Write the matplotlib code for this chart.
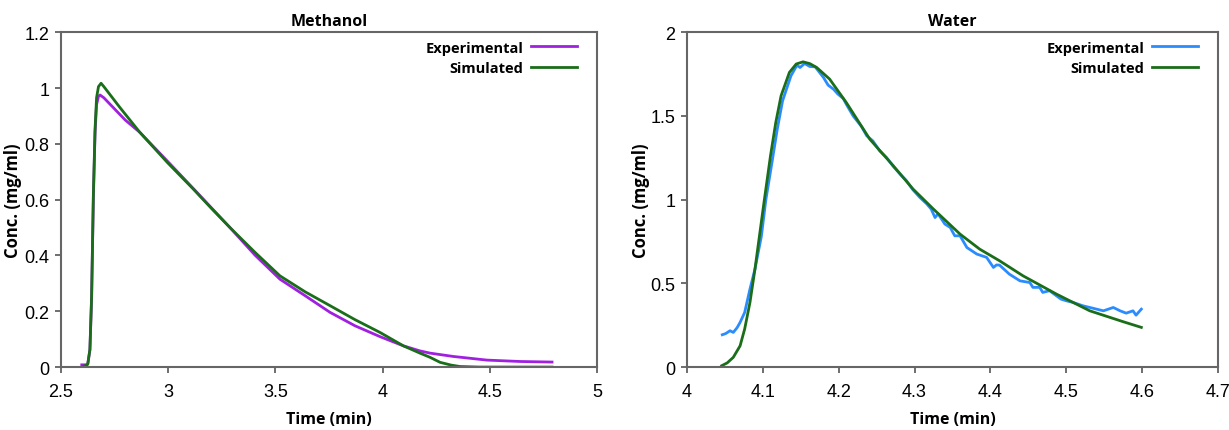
import matplotlib
import matplotlib.pyplot as plt

matplotlib.use('Agg')

# Methanol
meoh_exp_t = [2.597, 2.62, 2.625, 2.635, 2.643, 2.651, 2.659, 2.666, 2.675, 2.682, 2.70,
              2.75, 2.80, 2.868, 3.0, 3.117, 3.2, 3.288, 3.405, 3.521, 3.638, 3.755,
              3.871, 3.988, 4.097, 4.174, 4.221, 4.33, 4.486, 4.641, 4.79]
meoh_exp_c = [0.008, 0.008, 0.012, 0.06, 0.25, 0.6, 0.84, 0.94, 0.97, 0.975, 0.965,
              0.925, 0.885, 0.841, 0.735, 0.64, 0.572, 0.50, 0.401, 0.315, 0.256, 0.196,
              0.148, 0.109, 0.076, 0.058, 0.050, 0.038, 0.025, 0.020, 0.018]
meoh_sim_t = [2.60, 2.625, 2.635, 2.643, 2.651, 2.659, 2.666, 2.675, 2.687, 2.70, 2.775,
              2.868, 3.0, 3.117, 3.2, 3.288, 3.405, 3.521, 3.638, 3.755, 3.871, 3.988,
              4.097, 4.174, 4.221, 4.268, 4.32, 4.361, 4.45, 4.79]
meoh_sim_c = [0.0, 0.01, 0.064, 0.255, 0.614, 0.853, 0.965, 1.005, 1.017, 1.005, 0.93,
              0.841, 0.73, 0.638, 0.57, 0.50, 0.411, 0.327, 0.270, 0.220, 0.170, 0.124,
              0.076, 0.050, 0.035, 0.017, 0.007, 0.002, 0.0, 0.0]

# Water
water_exp_t = [4.0465, 4.051, 4.0567, 4.061, 4.066, 4.070, 4.076, 4.083, 4.0896, 4.098,
               4.104, 4.112, 4.119, 4.126, 4.137, 4.145, 4.149, 4.155, 4.162, 4.169,
               4.180, 4.186, 4.193, 4.199, 4.206, 4.210, 4.219, 4.230, 4.237, 4.245,
               4.254, 4.263, 4.272, 4.281, 4.289, 4.298, 4.307, 4.316, 4.322, 4.327,
               4.331, 4.340, 4.347, 4.353, 4.360, 4.369, 4.382, 4.395, 4.404, 4.408,
               4.412, 4.425, 4.439, 4.452, 4.456, 4.465, 4.469, 4.478, 4.487, 4.493,
               4.50, 4.509, 4.522, 4.531, 4.54, 4.549, 4.562, 4.571, 4.579, 4.588,
               4.592, 4.599]
water_exp_c = [0.193, 0.200, 0.217, 0.207, 0.235, 0.267, 0.326, 0.466, 0.585, 0.78,
               1.0, 1.222, 1.421, 1.59, 1.739, 1.803, 1.789, 1.813, 1.795, 1.793,
               1.729, 1.684, 1.660, 1.630, 1.604, 1.570, 1.50, 1.437, 1.381, 1.351,
               1.291, 1.252, 1.198, 1.152, 1.115, 1.058, 1.013, 0.975, 0.943, 0.893,
               0.915, 0.854, 0.834, 0.784, 0.784, 0.714, 0.675, 0.655, 0.595, 0.61,
               0.609, 0.555, 0.515, 0.505, 0.476, 0.476, 0.446, 0.456, 0.426, 0.406,
               0.396, 0.386, 0.366, 0.356, 0.346, 0.336, 0.356, 0.336, 0.322, 0.336,
               0.31, 0.346]
water_sim_t = [4.0457, 4.053, 4.061, 4.070, 4.076, 4.083, 4.0896, 4.096, 4.102, 4.110,
               4.117, 4.124, 4.135, 4.144, 4.153, 4.162, 4.171, 4.188, 4.21, 4.241,
               4.272, 4.298, 4.325, 4.360, 4.386, 4.412, 4.443, 4.487, 4.531, 4.575,
               4.599]
water_sim_c = [0.008, 0.025, 0.058, 0.127, 0.227, 0.386, 0.585, 0.80, 1.0, 1.26,
               1.46, 1.62, 1.76, 1.81, 1.823, 1.812, 1.789, 1.72, 1.58, 1.361,
               1.202, 1.063, 0.943, 0.794, 0.704, 0.635, 0.545, 0.436, 0.336, 0.271,
               0.237]

tick_font = ['Liberation Sans', 'DejaVu Sans']
label_font = ['Open Sans', 'DejaVu Sans']

fig = plt.figure(figsize=(12.29, 4.31), dpi=100)
ax1 = fig.add_axes([0.0496, 0.146, 0.4362, 0.777])
ax2 = fig.add_axes([0.559, 0.146, 0.432, 0.777])

panels = [
    (ax1, 'Methanol', meoh_exp_t, meoh_exp_c, '#a020e0', meoh_sim_t, meoh_sim_c,
     (2.5, 5), [2.5, 3, 3.5, 4, 4.5, 5], ['2.5', '3', '3.5', '4', '4.5', '5'],
     (0, 1.2), [0, 0.2, 0.4, 0.6, 0.8, 1, 1.2], ['0', '0.2', '0.4', '0.6', '0.8', '1', '1.2'],
     -0.072),
    (ax2, 'Water', water_exp_t, water_exp_c, '#2a8cff', water_sim_t, water_sim_c,
     (4, 4.7), [4, 4.1, 4.2, 4.3, 4.4, 4.5, 4.6, 4.7],
     ['4', '4.1', '4.2', '4.3', '4.4', '4.5', '4.6', '4.7'],
     (0, 2), [0, 0.5, 1, 1.5, 2], ['0', '0.5', '1', '1.5', '2'],
     -0.07),
]

for ax, title, et, ec, ecol, st, sc, xlim, xt, xtl, ylim, yt, ytl, ylab_x in panels:
    ax.plot(et, ec, color=ecol, lw=2.0, label='Experimental')
    ax.plot(st, sc, color='#1a6e1a', lw=2.0, label='Simulated')
    ax.set_xlim(*xlim)
    ax.set_ylim(*ylim)
    ax.set_xticks(xt)
    ax.set_xticklabels(xtl, fontfamily=tick_font, fontsize=13)
    ax.set_yticks(yt)
    ax.set_yticklabels(ytl, fontfamily=tick_font, fontsize=13)
    ax.tick_params(direction='out', length=4.5, width=1.2, color='#555555')
    ax.tick_params(axis='x', pad=7)
    ax.tick_params(axis='y', pad=4)
    for sp in ax.spines.values():
        sp.set_color('#666666')
        sp.set_linewidth(1.5)
    ax.set_title(title, fontsize=11.5, fontweight='bold', fontfamily=label_font, pad=5)
    ax.set_xlabel('Time (min)', fontsize=11.5, fontweight='bold', fontfamily=label_font)
    ax.set_ylabel('Conc. (mg/ml)', fontsize=12, fontweight='bold', fontfamily=label_font)
    ax.xaxis.set_label_coords(0.5, -0.13)
    ax.yaxis.set_label_coords(ylab_x, 0.5)
    ax.legend(loc='upper right', bbox_to_anchor=(0.963, 0.975), frameon=False,
              markerfirst=False, prop={'weight': 'bold', 'size': 10.5, 'family': label_font},
              handlelength=3.2, borderaxespad=0, borderpad=0, labelspacing=0.45,
              handletextpad=0.5)

fig.savefig('out.png', dpi=100)
